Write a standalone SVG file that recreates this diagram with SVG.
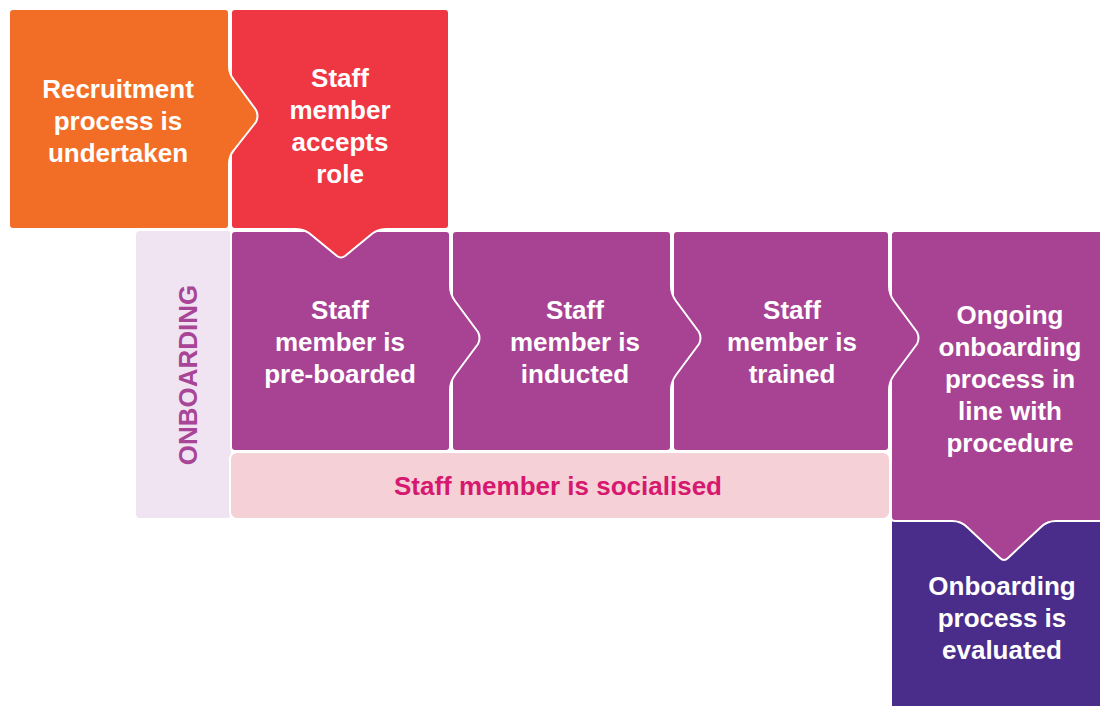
<svg xmlns="http://www.w3.org/2000/svg" width="1100" height="706" viewBox="0 0 1100 706">
<style>
.s{stroke:#fff;stroke-width:2;stroke-linejoin:round}
.t{font-family:"Liberation Sans",Arial,Helvetica,sans-serif;font-weight:bold;font-size:26px;fill:#fff;text-anchor:middle}
</style>
<rect width="1100" height="706" fill="#fff"/>
<g id="onboarding-label">
<rect class="s" x="135" y="230" width="97" height="289" rx="5" fill="#f0e4f2"/>
<text class="t" transform="translate(197,375) rotate(-90)" style="fill:#a84596">ONBOARDING</text>
</g>
<g id="socialised">
<rect class="s" x="230" y="452" width="660" height="67" rx="7" fill="#f5d1d7"/>
<text class="t" x="558" y="495" style="fill:#d6186e">Staff member is socialised</text>
</g>
<g id="evaluated">
<rect class="s" x="891" y="520" width="212" height="190" fill="#4a2d8a"/>
<text class="t"><tspan x="1002" y="595">Onboarding</tspan><tspan x="1002" y="627">process is</tspan><tspan x="1002" y="659">evaluated</tspan></text>
</g>
<g id="ongoing">
<path class="s" fill="#a84394" d="M895,231 H1104 V521 H1056 Q1047,521 1041,527 L1008,558 Q1004,562 1000,558 L967,527 Q961,521 952,521 H895 Q891,521 891,517 V235 Q891,231 895,231 Z"/>
<text class="t"><tspan x="1010" y="324">Ongoing</tspan><tspan x="1010" y="356">onboarding</tspan><tspan x="1010" y="388">process in</tspan><tspan x="1010" y="420">line with</tspan><tspan x="1010" y="452">procedure</tspan></text>
</g>
<g id="trained">
<path class="s" fill="#a84394" d="M677,231 H885 Q889,231 889,235 V286 Q889,294 894,301 L917,332 Q920,338 917,344 L894,375 Q889,382 889,390 V447 Q889,451 885,451 H677 Q673,451 673,447 V235 Q673,231 677,231 Z"/>
<text class="t"><tspan x="792" y="319">Staff</tspan><tspan x="792" y="351">member is</tspan><tspan x="792" y="383">trained</tspan></text>
</g>
<g id="inducted">
<path class="s" fill="#a84394" d="M456,231 H667 Q671,231 671,235 V286 Q671,294 676,301 L699,332 Q702,338 699,344 L676,375 Q671,382 671,390 V447 Q671,451 667,451 H456 Q452,451 452,447 V235 Q452,231 456,231 Z"/>
<text class="t"><tspan x="575" y="319">Staff</tspan><tspan x="575" y="351">member is</tspan><tspan x="575" y="383">inducted</tspan></text>
</g>
<g id="preboarded">
<path class="s" fill="#a84394" d="M235,231 H446 Q450,231 450,235 V286 Q450,294 455,301 L478,332 Q481,338 478,344 L455,375 Q450,382 450,390 V447 Q450,451 446,451 H235 Q231,451 231,447 V235 Q231,231 235,231 Z"/>
<text class="t"><tspan x="340" y="319">Staff</tspan><tspan x="340" y="351">member is</tspan><tspan x="340" y="383">pre-boarded</tspan></text>
</g>
<g id="accepts">
<path class="s" fill="#ee3742" d="M235,9 H445 Q449,9 449,13 V225 Q449,229 445,229 H387 Q379,229 373,233 L345,256 Q341,259 337,256 L309,233 Q303,229 295,229 H235 Q231,229 231,225 V13 Q231,9 235,9 Z"/>
<text class="t"><tspan x="340" y="87">Staff</tspan><tspan x="340" y="119">member</tspan><tspan x="340" y="151">accepts</tspan><tspan x="340" y="183">role</tspan></text>
</g>
<g id="recruitment">
<path class="s" fill="#f26e26" d="M13,9 H225 Q229,9 229,13 V66 Q229,74 234,80 L256,110 Q259,116 256,122 L234,150 Q229,156 229,164 V225 Q229,229 225,229 H13 Q9,229 9,225 V13 Q9,9 13,9 Z"/>
<text class="t"><tspan x="118" y="98">Recruitment</tspan><tspan x="118" y="130">process is</tspan><tspan x="118" y="162">undertaken</tspan></text>
</g>
<g id="connectors"></g>
</svg>
